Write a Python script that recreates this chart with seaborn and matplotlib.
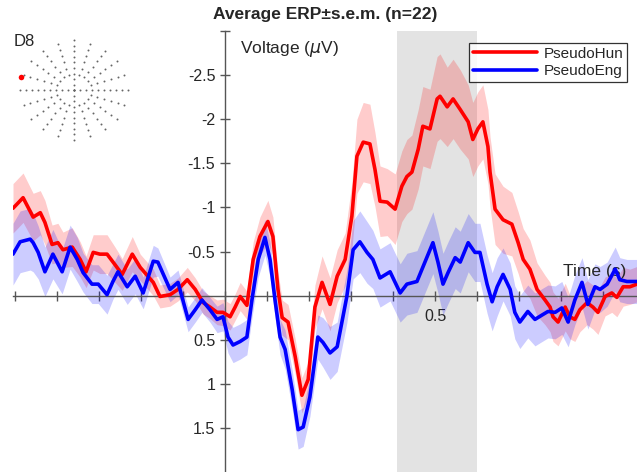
import numpy as np
import pandas as pd
import matplotlib
matplotlib.use("Agg")
import matplotlib.pyplot as plt
import seaborn as sns

# ERP traces (time in s, voltage in uV, s.e.m. in uV)
red_t = [-0.505, -0.481, -0.457, -0.440, -0.429, -0.412, -0.398, -0.386, -0.364, -0.345,
         -0.331, -0.314, -0.298, -0.281, -0.262, -0.245, -0.221, -0.202, -0.171, -0.155,
         -0.131, -0.112, -0.090, -0.071, -0.052, -0.036, -0.019, -0.005, 0.012, 0.024,
         0.036, 0.052, 0.067, 0.083, 0.102, 0.114, 0.126, 0.136, 0.150, 0.167,
         0.183, 0.198, 0.214, 0.231, 0.250, 0.267, 0.286, 0.302, 0.314, 0.329,
         0.345, 0.357, 0.369, 0.386, 0.405, 0.421, 0.433, 0.445, 0.460, 0.471,
         0.488, 0.505, 0.512, 0.529, 0.543, 0.560, 0.579, 0.590, 0.602, 0.614,
         0.626, 0.631, 0.643, 0.662, 0.683, 0.698, 0.710, 0.726, 0.743, 0.762,
         0.774, 0.781, 0.793, 0.810, 0.821, 0.833, 0.845, 0.862, 0.876, 0.888,
         0.905, 0.921, 0.933, 0.948, 0.964, 0.981]
red_v = [-0.99, -1.11, -0.89, -0.94, -0.83, -0.58, -0.60, -0.52, -0.55, -0.41,
         -0.27, -0.49, -0.47, -0.47, -0.35, -0.24, -0.47, -0.32, -0.15, 0.01,
         -0.01, -0.07, -0.18, -0.07, 0.08, 0.13, 0.19, 0.19, 0.24, 0.13,
         0.01, 0.11, -0.41, -0.67, -0.84, -0.67, -0.07, 0.25, 0.30, 0.69,
         1.13, 0.95, 0.13, -0.15, 0.10, -0.22, -0.41, -0.90, -1.58, -1.74,
         -1.72, -1.43, -1.07, -1.06, -0.98, -1.24, -1.35, -1.40, -1.66, -1.92,
         -1.89, -2.23, -2.26, -2.14, -2.23, -2.11, -1.97, -1.77, -1.89, -1.97,
         -1.69, -1.40, -0.98, -0.86, -0.81, -0.60, -0.41, -0.30, -0.07, 0.05,
         0.13, 0.24, 0.30, 0.13, 0.24, 0.27, 0.16, 0.08, 0.13, 0.19,
         0.01, -0.03, 0.02, -0.10, -0.10, -0.13]
red_sem = [0.28, 0.28, 0.27, 0.25, 0.25, 0.22, 0.22, 0.20, 0.22, 0.20,
           0.18, 0.20, 0.22, 0.22, 0.20, 0.18, 0.20, 0.15, 0.15, 0.13,
           0.13, 0.13, 0.14, 0.13, 0.13, 0.13, 0.14, 0.15, 0.15, 0.15,
           0.16, 0.16, 0.20, 0.22, 0.24, 0.22, 0.20, 0.20, 0.20, 0.20,
           0.20, 0.20, 0.25, 0.30, 0.30, 0.30, 0.30, 0.38, 0.42, 0.45,
           0.45, 0.42, 0.40, 0.38, 0.40, 0.40, 0.42, 0.42, 0.45, 0.45,
           0.45, 0.48, 0.48, 0.45, 0.45, 0.45, 0.42, 0.42, 0.42, 0.42,
           0.42, 0.40, 0.40, 0.38, 0.36, 0.35, 0.35, 0.33, 0.30, 0.28,
           0.28, 0.28, 0.27, 0.27, 0.25, 0.25, 0.25, 0.25, 0.25, 0.25,
           0.22, 0.22, 0.22, 0.22, 0.20, 0.20]

blue_t = [-0.505, -0.488, -0.464, -0.457, -0.445, -0.429, -0.410, -0.388, -0.369, -0.352,
          -0.338, -0.317, -0.302, -0.281, -0.267, -0.255, -0.233, -0.214, -0.195, -0.171,
          -0.160, -0.131, -0.112, -0.088, -0.071, -0.055, -0.036, -0.019, -0.005, 0.007,
          0.019, 0.036, 0.052, 0.064, 0.079, 0.095, 0.107, 0.119, 0.131, 0.143,
          0.160, 0.174, 0.186, 0.202, 0.221, 0.233, 0.250, 0.267, 0.290, 0.305,
          0.321, 0.338, 0.352, 0.369, 0.393, 0.417, 0.433, 0.457, 0.476, 0.495,
          0.507, 0.519, 0.531, 0.548, 0.560, 0.579, 0.595, 0.607, 0.624, 0.636,
          0.648, 0.662, 0.679, 0.690, 0.702, 0.721, 0.738, 0.755, 0.769, 0.786,
          0.802, 0.817, 0.833, 0.850, 0.864, 0.881, 0.893, 0.910, 0.929, 0.940,
          0.957, 0.981]
blue_v = [-0.47, -0.61, -0.64, -0.60, -0.49, -0.27, -0.47, -0.27, -0.55, -0.41,
          -0.26, -0.13, -0.13, -0.01, -0.16, -0.27, -0.10, -0.22, -0.03, -0.39,
          -0.38, -0.07, -0.15, 0.27, 0.16, 0.05, 0.16, 0.27, 0.24, 0.47,
          0.56, 0.52, 0.47, 0.05, -0.41, -0.66, -0.41, 0.05, 0.47, 0.61,
          1.07, 1.52, 1.49, 1.15, 0.47, 0.53, 0.65, 0.58, 0.01, -0.52,
          -0.61, -0.49, -0.41, -0.20, -0.27, -0.03, -0.13, -0.16, -0.38, -0.60,
          -0.38, -0.13, -0.26, -0.43, -0.38, -0.60, -0.49, -0.49, -0.13, 0.07,
          -0.10, -0.24, -0.07, 0.19, 0.30, 0.18, 0.27, 0.22, 0.18, 0.19,
          0.14, 0.30, 0.05, -0.15, 0.10, -0.10, -0.07, -0.13, -0.30, -0.18,
          -0.16, -0.16]
blue_sem = [0.35, 0.35, 0.35, 0.33, 0.30, 0.28, 0.28, 0.25, 0.25, 0.25,
            0.22, 0.22, 0.22, 0.22, 0.20, 0.20, 0.20, 0.20, 0.18, 0.18,
            0.16, 0.14, 0.14, 0.14, 0.14, 0.14, 0.14, 0.15, 0.16, 0.18,
            0.20, 0.20, 0.20, 0.20, 0.20, 0.20, 0.20, 0.20, 0.20, 0.22,
            0.22, 0.22, 0.22, 0.22, 0.25, 0.28, 0.30, 0.28, 0.30, 0.33,
            0.35, 0.35, 0.33, 0.33, 0.33, 0.33, 0.35, 0.35, 0.35, 0.35,
            0.35, 0.35, 0.35, 0.35, 0.35, 0.33, 0.33, 0.33, 0.33, 0.33,
            0.33, 0.30, 0.30, 0.30, 0.30, 0.30, 0.30, 0.30, 0.30, 0.30,
            0.30, 0.28, 0.28, 0.28, 0.28, 0.26, 0.26, 0.25, 0.25, 0.25,
            0.25, 0.25]

conditions = ["PseudoHun", "PseudoEng"]
colors = ["#ff0000", "#0000ff"]
window = [0.41, 0.60]

# electrode layout for the little head map (spokes)
spoke_angles = [0, 18, 36, 54, 72, 90, 108, 126, 144, 162,
                180, 198, 216, 234, 252, 270, 288, 306, 324, 342]
axis_angles = [0, 90, 180, 270]
axis_radii = [0.0, 0.11, 0.22, 0.33, 0.44, 0.55, 0.66, 0.77, 0.88, 0.99]
spoke_radii = [0.32, 0.45, 0.58, 0.71, 0.84, 0.97]
chosen_angle = 165
chosen_radius = 1.0

sns.set_theme(style="white")
plt.rcParams["font.family"] = ["Liberation Sans", "DejaVu Sans"]
plt.rcParams["mathtext.fontset"] = "dejavusans"

df = pd.concat([
    pd.DataFrame({"time": red_t, "volt": red_v, "sem": red_sem, "cond": conditions[0]}),
    pd.DataFrame({"time": blue_t, "volt": blue_v, "sem": blue_sem, "cond": conditions[1]}),
])

fig = plt.figure(figsize=(6.37, 4.72), dpi=100)
ax = fig.add_axes([13 / 637, 0, 624 / 637, 441 / 472])

ax.axvspan(window[0], window[1], color="#e3e3e3", zorder=0, lw=0)

for cond, col in zip(conditions, colors):
    d = df[df["cond"] == cond]
    ax.fill_between(d["time"], d["volt"] - d["sem"], d["volt"] + d["sem"],
                    color=col, alpha=0.2, lw=0, zorder=1)

sns.lineplot(data=df, x="time", y="volt", hue="cond", palette=colors,
             hue_order=conditions, linewidth=2.6, sort=False, estimator=None,
             ax=ax, zorder=3, legend=False)
for ln in ax.lines:
    ln.set_solid_joinstyle("round")

ax.set_xlim(-0.505, 0.981)
ax.set_ylim(2.0, -3.0)
ax.spines["left"].set_position(("data", 0))
ax.spines["bottom"].set_position(("data", 0))
ax.spines["top"].set_visible(False)
ax.spines["right"].set_visible(False)
for s in ["left", "bottom"]:
    ax.spines[s].set_color("#555555")
    ax.spines[s].set_linewidth(1.0)

xt = np.round(np.arange(-0.5, 0.95, 0.1), 1)
ax.set_xticks(xt)
ax.set_xticklabels(["0.5" if abs(t - 0.5) < 1e-6 else "" for t in xt])
yt = [-3, -2.5, -2, -1.5, -1, -0.5, 0.5, 1, 1.5]
ax.set_yticks(yt)
ax.set_yticklabels(["", "-2.5", "-2", "-1.5", "-1", "-0.5", "0.5", "1", "1.5"])
ax.tick_params(axis="both", direction="inout", length=7, width=1.0, color="#555555",
               labelsize=11.5, labelcolor="#262626", bottom=True, left=True)
ax.tick_params(axis="x", pad=6)
ax.set_xlabel("")
ax.set_ylabel("")
ax.grid(False)

ax.text(0.036, -2.8, r"Voltage ($\mu$V)", fontsize=12.5, color="#262626", va="center")
ax.text(0.805, -0.27, "Time (s)", fontsize=12.5, color="#262626", va="center", zorder=2)
ax.set_title("Average ERP\u00b1s.e.m. (n=22)", fontsize=12.5, fontweight="bold", pad=9)

handles = [plt.Line2D([], [], color=c, lw=2.6) for c in colors]
leg = ax.legend(handles, conditions, loc="upper right",
                bbox_to_anchor=(627 / 637, 1 - 43 / 472), bbox_transform=fig.transFigure,
                fontsize=11, frameon=True, fancybox=False, handlelength=4.2,
                borderpad=0.25, labelspacing=0.2, handletextpad=0.4, borderaxespad=0)
leg.get_frame().set_edgecolor("black")
leg.get_frame().set_linewidth(0.9)

# head map inset
hx = fig.add_axes([14 / 637, 1 - 145 / 472, 120 / 637, 110 / 472])
xs, ys = [], []
for a in spoke_angles:
    radii = axis_radii if a in axis_angles else spoke_radii
    for r in radii:
        xs.append(r * np.cos(np.deg2rad(a)))
        ys.append(r * np.sin(np.deg2rad(a)))
hx.scatter(xs, ys, s=2.0, color="#666666", lw=0)
hx.scatter([chosen_radius * np.cos(np.deg2rad(chosen_angle))],
           [chosen_radius * np.sin(np.deg2rad(chosen_angle))], s=16, color="#ff0000", lw=0)
hx.set_xlim(-1.1, 1.1)
hx.set_ylim(-1.1, 1.1)
hx.axis("off")
fig.text(14 / 637, 1 - 41 / 472, "D8", fontsize=12, color="#262626", va="center")

fig.savefig("out.png", dpi=100)
